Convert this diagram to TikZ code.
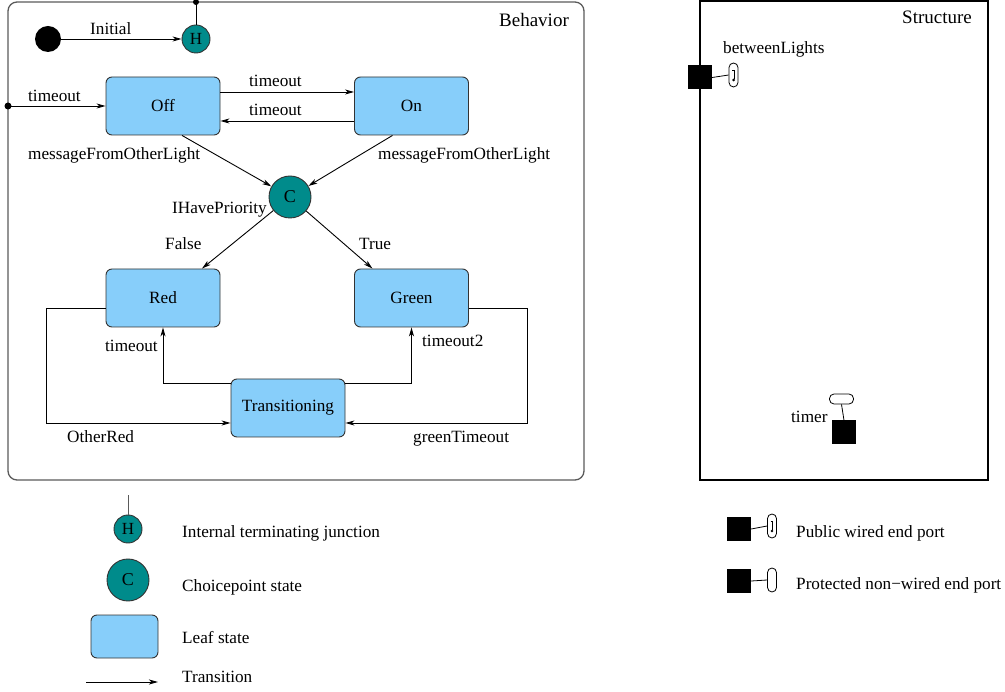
\documentclass[tikz,border=0pt]{standalone}
\usepackage{fontspec}
\setmainfont{Liberation Serif}
\usetikzlibrary{arrows.meta,calc}
\definecolor{leafblue}{RGB}{135,206,250}
\definecolor{junc}{RGB}{0,139,139}
\definecolor{framegray}{RGB}{90,90,90}
\begin{document}
\begin{tikzpicture}[x=1pt,y=-1pt,
  font=\fontsize{17.2}{20}\selectfont,
  leaf/.style={draw=black!80,line width=0.9pt,fill=leafblue,rounded corners=6pt,minimum width=114pt,minimum height=58pt,inner sep=0pt},
  hjunc/.style={circle,draw=black!80,line width=0.9pt,fill=junc,minimum size=28pt,inner sep=0pt,font=\fontsize{17}{19}\selectfont},
  cjunc/.style={circle,draw=black!80,line width=0.9pt,fill=junc,minimum size=42pt,inner sep=0pt,font=\fontsize{18}{20}\selectfont},
  tr/.style={line width=0.9pt,-{Stealth[length=9pt,width=5pt,inset=2.5pt]}},
  lbl/.style={inner sep=0pt,anchor=base west},
  pdot/.style={circle,fill=black,inner sep=0pt,minimum size=7pt},
  sq/.style={fill=black,inner sep=0pt,minimum width=24pt,minimum height=24pt},
  pill/.style={draw=black,line width=0.8pt,rounded corners=4.5pt,inner sep=0pt,minimum width=9pt,minimum height=24pt},
  hpill/.style={draw=black,line width=0.8pt,rounded corners=4.5pt,inner sep=0pt,minimum width=24pt,minimum height=10pt}
]
\useasboundingbox (0,0) rectangle (1005,692);

% ---------- Behavior frame ----------
\draw[framegray,line width=1.3pt,rounded corners=9pt] (8,2) rectangle (584,480);
\node[lbl,font=\fontsize{19}{22}\selectfont] at (499,27) {Behavior};

% initial
\node[circle,fill=black,minimum size=26pt,inner sep=0pt] (init) at (48,39) {};
\node[hjunc] (h) at (196,39) {H};
\node[pdot,minimum size=6pt] (htop) at (196,2) {};
\draw[line width=0.9pt] (h.north) -- (htop.center);
\draw[tr] (init) -- (h);
\node[lbl] at (90,35) {Initial};

% states
\node[leaf] (off) at (163,106) {Off};
\node[leaf] (on) at (411.5,106) {On};
\node[cjunc] (c) at (290,197) {C};
\node[leaf] (red) at (163,298) {Red};
\node[leaf] (green) at (411.5,298) {Green};
\node[leaf] (trans) at (288,408) {Transitioning};

% entry timeout
\node[pdot] (entry) at (8,106) {};
\draw[tr] (entry.center) -- (off.west);
\node[lbl] at (28,102) {timeout};

% Off <-> On
\draw[tr] ($(off.east)+(0,-14)$) -- ($(on.west)+(0,-14)$);
\node[lbl] at (249,87) {timeout};
\draw[tr] ($(on.west)+(0,15)$) -- ($(off.east)+(0,15)$);
\node[lbl] at (249,116) {timeout};

% to choicepoint
\draw[tr] ($(off.south)+(19,0)$) -- (c);
\draw[tr] ($(on.south)+(-19,0)$) -- (c);
\node[lbl] at (28,160) {messageFromOtherLight};
\node[lbl] at (378,160) {messageFromOtherLight};
\node[lbl] at (172,214) {IHavePriority};

% from choicepoint
\draw[tr] (c) -- ($(red.north)+(39,0)$);
\draw[tr] (c) -- ($(green.north)+(-39,0)$);
\node[lbl] at (165,250) {False};
\node[lbl] at (359,250) {True};

% Transitioning -> Red / Green
\draw[tr] ($(trans.north west)+(0,5)$) -| (red.south);
\node[lbl] at (105,352) {timeout};
\draw[tr] ($(trans.north east)+(0,5)$) -| (green.south);
\node[lbl] at (422,347) {timeout2};

% Red / Green -> Transitioning
\draw[tr] ($(red.west)+(0,10)$) -- ++(-59,0) |- ($(trans.west)+(0,15)$);
\node[lbl] at (67,443) {OtherRed};
\draw[tr] ($(green.east)+(0,10)$) -- ++(58,0) |- ($(trans.east)+(0,15)$);
\node[lbl] at (413,443) {greenTimeout};

% ---------- Structure frame ----------
\draw[line width=2pt] (700,1) rectangle (988,480);
\node[lbl,font=\fontsize{19}{22}\selectfont] at (902,24) {Structure};

% betweenLights port
\node[sq] (bsq) at (700,77.5) {};
\node[pill] (bpill) at (733.5,75) {};
\draw[line width=0.8pt] (bsq.east) -- (bpill.west);
\draw[line width=1pt] (732,71) -- (734,71) -- (734,79.5);
\fill (733.6,80) circle (1.4pt);
\node[lbl] at (723,54) {betweenLights};

% timer port
\node[hpill] (tpill) at (841.5,399) {};
\node[sq] (tsq) at (844,432.5) {};
\draw[line width=0.8pt] (tpill.south) -- (tsq.north);
\node[lbl] at (791,423) {timer};

% ---------- Legend left ----------
\node[hjunc] (lh) at (128,529) {H};
\coordinate (lhtop) at (128,495);
\draw[framegray,line width=0.9pt] (lh.north) -- (lhtop);
\node[lbl] at (182,538) {Internal terminating junction};
\node[cjunc] (lc) at (128,580) {C};
\node[lbl] at (182,591) {Choicepoint state};
\node[leaf,minimum width=67pt,minimum height=43pt] (lleaf) at (124.5,636.5) {};
\node[lbl] at (182,643) {Leaf state};
\coordinate (la) at (86,682);
\coordinate (lb) at (158,682);
\draw[tr] (la) -- (lb);
\node[lbl] at (182,682) {Transition};

% ---------- Legend right ----------
\node[sq] (psq1) at (739,529) {};
\node[pill] (ppill1) at (772,526) {};
\draw[line width=0.8pt] (psq1.east) -- (ppill1.west);
\draw[line width=1pt] (770.5,522) -- (772.5,522) -- (772.5,530.5);
\fill (772,531) circle (1.4pt);
\node[lbl] at (796,538) {Public wired end port};

\node[sq] (psq2) at (739,581) {};
\node[pill] (ppill2) at (772,580) {};
\draw[line width=0.8pt] (psq2.east) -- (ppill2.west);
\node[lbl] at (796,590) {Protected non−wired end port};
\end{tikzpicture}
\end{document}
